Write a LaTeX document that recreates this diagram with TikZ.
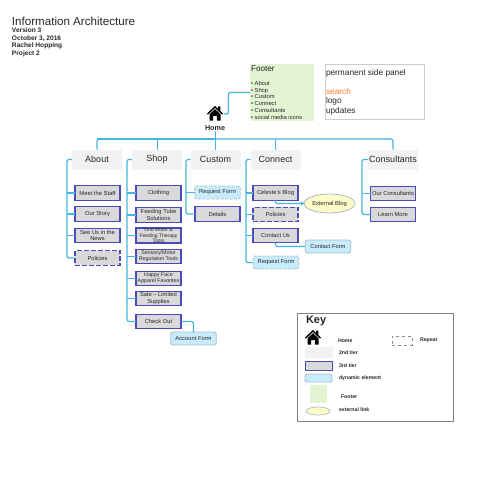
\documentclass[tikz,border=0pt]{standalone}
\usepackage{fontspec}
\setmainfont{Liberation Sans}
\usetikzlibrary{calc,shapes.geometric}
\definecolor{conn}{HTML}{45B5E0}
\definecolor{tierA}{HTML}{F2F2F2}
\definecolor{tierB}{HTML}{D9D9D9}
\definecolor{tierBline}{HTML}{4A4AB8}
\definecolor{dyn}{HTML}{C9ECFD}
\definecolor{dynline}{HTML}{A9BCC6}
\definecolor{foot}{HTML}{E3F4D3}
\definecolor{extl}{HTML}{FFFBC8}
\definecolor{txt}{HTML}{262626}
\newcommand{\fs}[2]{\fontsize{#1}{#2}\selectfont}
\newcommand{\houseicon}[3]{% cx, cy, scale
 \begin{scope}[shift={(#1,#2)},x=#3pt,y=-#3pt]
  \fill[black] (-8,-0.5) -- (0,-8) -- (3.2,-5) -- (3.2,-7.5) -- (5.4,-7.5) -- (5.4,-3) -- (8,-0.5) -- (7,0.6) -- (0,-6) -- (-7,0.6) -- cycle;
  \fill[black] (-5.5,0.3) -- (0,-4.8) -- (5.5,0.3) -- (5.5,6.5) -- (1.8,6.5) -- (1.8,2) -- (-1.8,2) -- (-1.8,6.5) -- (-5.5,6.5) -- cycle;
 \end{scope}}
\tikzset{
 x=1pt,y=-1pt,
 every node/.style={inner sep=0pt,outer sep=0pt,text=txt,align=center},
 link/.style={draw=conn,line width=1.2pt,rounded corners=2pt},
 thinlink/.style={link,line width=0.8pt},
 tiertwo/.style={fill=tierA,minimum width=50pt,minimum height=20pt,font=\fs{9}{10}},
 tierthree/.style={fill=tierB,draw=tierBline,line width=1.1pt,minimum width=45pt,minimum height=14.5pt,font=\fs{5.8}{6.8}},
 tierrepeat/.style={tierthree,dash pattern=on 5pt off 2pt},
 dynamic/.style={fill=dyn,draw=dynline,line width=0.8pt,rounded corners=1.5pt,minimum width=45.5pt,minimum height=13pt,font=\fs{5.8}{6.8}},
 dynrepeat/.style={dynamic,dash pattern=on 3pt off 1.5pt},
 lefttext/.style={anchor=west,align=left},
 keytext/.style={lefttext,font=\fs{5.2}{6}\bfseries},
 homeicon/.style={minimum width=17pt,minimum height=15pt},
}
\begin{document}
\begin{tikzpicture}
\useasboundingbox (0,0) rectangle (476,500);
% Title block
\node[lefttext,font=\fs{11.6}{13}] (title) at (12,21) {Information Architecture};
\node[lefttext,font=\fs{6.6}{7.5}\bfseries] (meta) at (12,42.3) {Version 3\\October 3, 2016\\Rachel Hopping\\Project 2};
% Footer and side panel
\node[fill=foot,minimum width=64pt,minimum height=57pt] (footer) at (282,92.5) {};
\node[lefttext,font=\fs{8.2}{9}] (footertitle) at (251,68.5) {Footer};
\node[lefttext,font=\fs{5.8}{6.85}] (footerlist) at (251,100.3) {• About\\• Shop\\• Custom\\• Connect\\• Consultants\\• social media icons};
\node[draw=black!20,line width=1pt,minimum width=99pt,minimum height=55.5pt] (panel) at (375,92) {};
\node[lefttext,font=\fs{8.3}{9.5}] (paneltext) at (326,92) {permanent side panel\\[9.5pt]\textcolor[HTML]{F47B2A}{search}\\logo\\updates};
% Home
\node[homeicon] (home) at (215,114) {};
\houseicon{215}{114}{1}
\node[font=\fs{7.2}{8}\bfseries] (homelabel) at (215,128) {Home};
\coordinate (bus) at (215,139);
% Second tier
\node[tiertwo] (about) at (97,159.5) {About};
\node[tiertwo] (shop) at (157,159.5) {Shop};
\node[tiertwo] (custom) at (215.5,159.5) {Custom};
\node[tiertwo] (connect) at (275.5,159.5) {Connect};
\node[tiertwo] (consult) at (393,159.5) {Consultants};
% Third tier
\node[tierthree] (staff) at (97.5,193) {Meet the Staff};
\node[tierthree] (story) at (97.5,214) {Our Story};
\node[tierthree] (news) at (97.5,235.5) {See Us in the\\News};
\node[tierrepeat] (polA) at (97.5,258) {Policies};
\node[tierthree] (cloth) at (158.5,193) {Clothing};
\node[tierthree] (tube) at (158.5,215) {Feeding Tube\\Solutions};
\node[tierthree,font=\fs{5}{5.7}] (oral) at (158.5,235.5) {Oral Motor \&\\Feeding Therapy\\Tools};
\node[tierthree,font=\fs{5.3}{6.2}] (sensory) at (158.5,256.5) {Sensory/Motor\\Regulation Tools};
\node[tierthree,font=\fs{5.3}{6.2}] (happy) at (158.5,278.5) {Happy Face\\Apparel Favorites};
\node[tierthree] (sale) at (158.5,298.5) {Sale – Limited\\Supplies};
\node[tierthree] (checkout) at (158.5,321.5) {Check Out};
\node[dynamic] (account) at (193.5,338.5) {Account Form};
\node[dynrepeat] (reqA) at (217.5,192.5) {Request Form};
\node[tierthree] (details) at (217.5,214) {Details};
\node[tierthree] (blog) at (275.5,193) {Celeste's Blog};
\node[tierrepeat] (polB) at (275.5,214.5) {Policies};
\node[tierthree] (contact) at (275.5,235.5) {Contact Us};
\node[dynrepeat] (reqB) at (276,262.5) {Request Form};
\node[dynamic] (cform) at (328,246.5) {Contact Form};
\node[ellipse,draw=dynline,fill=extl,line width=0.8pt,minimum width=51pt,minimum height=19pt,font=\fs{5.8}{6.8}] (ext) at (329.5,203.5) {External Blog};
\node[tierthree] (ourc) at (393,193.5) {Our Consultants};
\node[tierthree] (learn) at (393,214.5) {Learn More};
% Connectors
\draw[link] (home.east) -- ++(5,0) |- (footer.west);
\draw[thinlink] (homelabel.south) -- (bus);
\draw[link] (about.north) |- (bus);
\draw[thinlink] (shop.north) -- (shop.north |- bus);
\draw[link] (about.north |- bus) -- (bus);
\draw[thinlink] (custom.north) -- (custom.north |- bus);
\draw[thinlink] (connect.north) -- (connect.north |- bus);
\draw[link] (consult.north) |- (bus);
\draw[link] (about.west) -- ++(-5,0) |- (polA.west);
\draw[link] (staff.west) -- ++(-8,0);
\draw[link] (story.west) -- ++(-8,0);
\draw[link] (news.west) -- ++(-8,0);
\draw[link] (shop.west) -- ++(-5,0) |- (checkout.west);
\draw[link] (cloth.west) -- ++(-9,0);
\draw[link] (tube.west) -- ++(-9,0);
\draw[link] (oral.west) -- ++(-9,0);
\draw[link] (sensory.west) -- ++(-9,0);
\draw[link] (happy.west) -- ++(-9,0);
\draw[link] (sale.west) -- ++(-9,0);
\draw[link] (checkout.east) -| (account.north);
\draw[link] (custom.west) -- ++(-4.5,0) |- (details.west);
\draw[link] (reqA.west) -- ++(-9,0);
\draw[link] (connect.west) -- ++(-4.5,0) |- (reqB.west);
\draw[link] (blog.west) -- ++(-7,0);
\draw[link] (polB.west) -- ++(-7,0);
\draw[link] (contact.west) -- ++(-7,0);
\draw[link] (blog.south) |- (ext.west);
\fill[conn] (ext.west) -- ++(-3,-2) -- ++(0,4) -- cycle;
\draw[link] (contact.south) |- (cform.west);
\draw[link] (consult.west) -- ++(-6,0) |- (learn.west);
\draw[link] (ourc.west) -- ++(-8,0);
% Key
\node[draw=black!50,line width=0.8pt,minimum width=156pt,minimum height=108pt] (keybox) at (375,367) {};
\node[lefttext,font=\fs{11}{12}\bfseries] (keytitle) at (306,321) {Key};
\node[homeicon,minimum height=14pt] (keyhome) at (313,338) {};
\houseicon{313}{338}{1}
\node[keytext] (k1) at (338,340.5) {Home};
\node[draw=black!45,dashed,line width=0.7pt,minimum width=20pt,minimum height=9pt] (krep) at (402,340.5) {};
\node[keytext] (k2) at (420,340.5) {Repeat};
\node[fill=tierA,minimum width=28pt,minimum height=11pt] (kt2) at (319,352.5) {};
\node[keytext] (k3) at (339,352.5) {2nd tier};
\node[fill=tierB,draw=tierBline,line width=1pt,minimum width=27pt,minimum height=8.5pt] (kt3) at (318.5,366) {};
\node[keytext] (k4) at (339,365.5) {3rd tier};
\node[fill=dyn,draw=dynline,line width=0.8pt,rounded corners=1.5pt,minimum width=27pt,minimum height=8pt] (kdyn) at (318.5,378) {};
\node[keytext] (k5) at (339,378) {dynamic element};
\node[fill=foot,minimum width=17pt,minimum height=18pt] (kfoot) at (318.5,394) {};
\node[keytext] (k6) at (341,396.5) {Footer};
\node[font=\fs{4}{4}] (kdot) at (312,394) {·};
\node[ellipse,draw=dynline,fill=extl,line width=0.7pt,minimum width=24pt,minimum height=8pt] (kext) at (318,411) {};
\node[keytext] (k7) at (339,410) {external link};
\end{tikzpicture}
\end{document}
